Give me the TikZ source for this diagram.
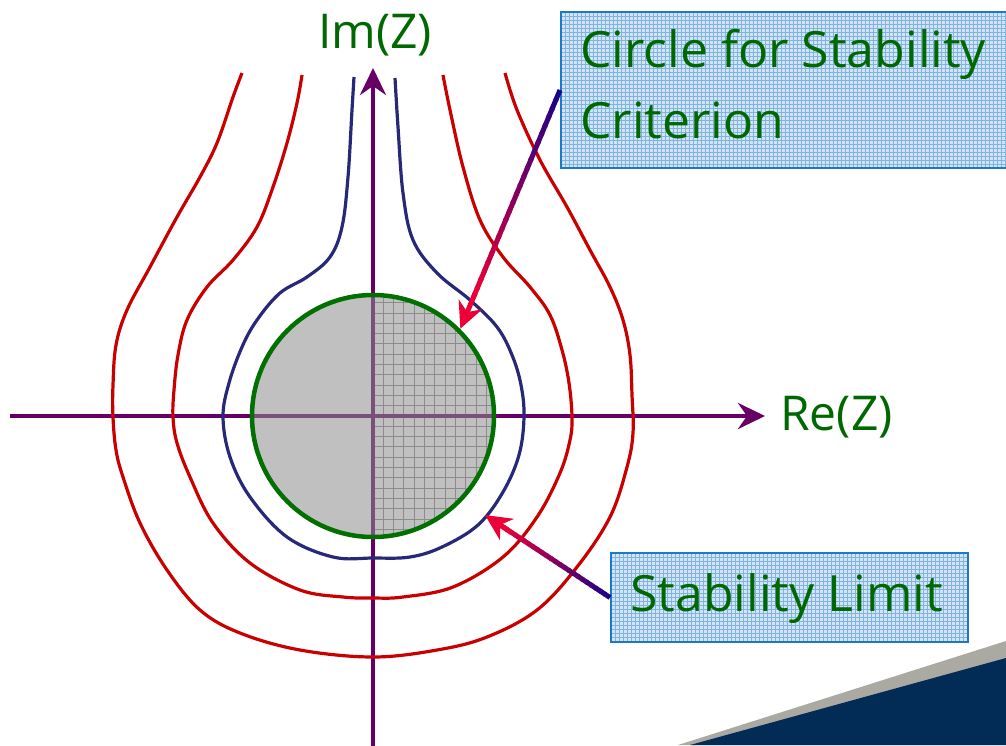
\documentclass[tikz,border=0pt]{standalone}
\usepackage{fontspec}
\newfontfamily\osans{Open Sans}
\usetikzlibrary{arrows.meta,calc}
\definecolor{txtgreen}{RGB}{0,104,0}
\definecolor{cgreen}{RGB}{0,112,0}
\definecolor{axpurple}{RGB}{102,0,102}
\definecolor{axmuted}{RGB}{122,80,122}
\definecolor{limblue}{RGB}{40,40,120}
\definecolor{cred}{RGB}{200,0,0}
\definecolor{cgray}{RGB}{192,192,192}
\definecolor{cgrid}{RGB}{140,140,140}
\definecolor{boxfill}{RGB}{210,229,247}
\definecolor{boxgrid}{RGB}{128,178,226}
\definecolor{boxline}{RGB}{30,120,200}
\definecolor{arrnavy}{RGB}{28,0,135}
\definecolor{arrred}{RGB}{235,0,55}
\definecolor{cornernavy}{RGB}{2,43,85}
\definecolor{cornergray}{RGB}{170,170,162}
\begin{document}
\begin{tikzpicture}[x=1pt,y=-1pt,
  axisline/.style={draw=axpurple, line width=4pt, -{Stealth[length=27pt,width=26pt,inset=9pt]}},
  curve/.style={line width=3.2pt},
  labelbox/.style={draw=boxline, line width=2pt, fill=boxfill, inner sep=0pt,
    path picture={
      \foreach \k in {0,4,...,460}{\draw[boxgrid, line width=1pt] ($(path picture bounding box.north west)+(\k,0)$) -- ++(0,200);}
      \foreach \k in {0,4,...,200}{\draw[boxgrid, line width=1pt] ($(path picture bounding box.north west)+(0,\k)$) -- ++(470,0);}
    }},
  lbl/.style={font=\osans\fontsize{50}{60}\selectfont, text=txtgreen, inner sep=0pt, anchor=base west},
  axlbl/.style={font=\osans\fontsize{48}{58}\selectfont, text=txtgreen, inner sep=0pt, anchor=base west},
  headtip/.style={-{Stealth[length=26pt,width=25pt,inset=8pt]}}
]
\clip (0,0) rectangle (1006,745);
\fill[white] (0,0) rectangle (1006,745);

% corner decoration
\fill[cornergray] (678,745) -- (1006,641) -- (1006,745) -- cycle;
\fill[cornernavy] (690,745) -- (1006,658) -- (1006,745) -- cycle;

% circle for stability criterion
\node[circle, minimum size=242pt, inner sep=0pt, outer sep=2.5pt, fill=cgray] (c) at (373,416) {};
\begin{scope}
  \clip (c.center) circle[radius=121pt];
  \clip (373,290) rectangle (500,545);
  \foreach \k in {0,...,12}{\draw[cgrid, line width=1pt] ($(373,290)+(\k*10.3,0)$) -- ++(0,260);}
  \foreach \k in {-12,...,12}{\draw[cgrid, line width=1pt] ($(373,416)+(0,\k*10.3)$) -- ++(130,0);}
\end{scope}

% axes
\coordinate (xl) at (10,416);
\coordinate (xr) at (765,416);
\coordinate (yb) at (373,750);
\coordinate (yt) at (373,68);
\draw[axisline] (xl) -- (xr);
\draw[axisline] (yb) -- (yt);
\begin{scope}
  \clip (c.center) circle[radius=119pt];
  \draw[axmuted, line width=4pt] (xl) -- (xr) (yb) -- (yt);
\end{scope}
\draw[cgreen, line width=4.5pt] (c.center) circle[radius=121pt];

% outer red curve
\draw[cred, curve] plot[smooth, tension=0.6] coordinates {
 (242,73) (233,97) (217,143) (200,177) (177,217) (150,267) (127,310) (116,345) (113,385) (113,417)
 (116,450) (123,477) (140,523) (167,570) (200,610) (240,633) (300,650) (373,657) (437,650)
 (487,637) (537,610) (577,567) (610,517) (627,467) (633,433) (632,395) (630,355) (623,320)
 (610,287) (590,250) (567,207) (540,160) (517,110) (505,73)};
% inner red curve
\draw[cred, curve] plot[smooth, tension=0.6] coordinates {
 (302,75) (297,103) (287,143) (273,187) (257,227) (233,260) (207,287) (187,320) (178,355) (174,390)
 (173,417) (177,443) (190,477) (213,523) (250,563) (300,590) (343,597) (373,598) (403,597)
 (453,587) (503,557) (537,517) (560,473) (570,440) (572,417) (569,383) (562,350) (550,315)
 (530,287) (503,257) (480,220) (463,167) (450,110) (443,75)};
% stability limit (blue)
\draw[limblue, curve] plot[smooth, tension=0.6] coordinates {
 (354,77) (352,110) (348,177) (342,227) (330,257) (307,277) (280,293) (257,320) (242,347)
 (229,383) (223,417) (230,457) (250,497) (287,537) (333,557) (373,558) (410,557) (442,547)
 (478,525) (503,492) (519,455) (524,417) (521,385) (512,355) (497,327) (470,300) (437,273)
 (413,240) (403,193) (398,127) (395,78)};

% label boxes
\node[labelbox, minimum width=455pt, minimum height=156pt] (box1) at (788.5,90) {};
\node[labelbox, minimum width=357pt, minimum height=89pt] (box2) at (789.5,597.5) {};

% arrows with colour gradient
\coordinate (tip1) at (c.45);
\coordinate (tip2) at (485,515);
\foreach \i in {0,...,23}{
  \pgfmathsetmacro\ta{\i/24*0.86}
  \pgfmathsetmacro\tb{(\i+1.3)/24*0.86}
  \pgfmathtruncatemacro\p{100*\i/23}
  \draw[line width=5pt, color=arrred!\p!arrnavy] ($(box1.west)!\ta!(tip1)$) -- ($(box1.west)!\tb!(tip1)$);
  \draw[line width=5pt, color=arrred!\p!arrnavy] ($(box2.west)!\ta!(tip2)$) -- ($(box2.west)!\tb!(tip2)$);
}
\draw[arrred, line width=5pt, headtip] ($(box1.west)!0.85!(tip1)$) -- (tip1);
\draw[arrred, line width=5pt, headtip] ($(box2.west)!0.8!(tip2)$) -- (tip2);

% texts
\node[axlbl] (imz) at (318,48) {Im(Z)};
\node[axlbl] (rez) at (780,430) {Re(Z)};
\node[lbl] (t1) at (580,67) {Circle for Stability};
\node[lbl] (t2) at (580,138) {Criterion};
\node[lbl] (t3) at (630,611) {Stability Limit};
\end{tikzpicture}
\end{document}
